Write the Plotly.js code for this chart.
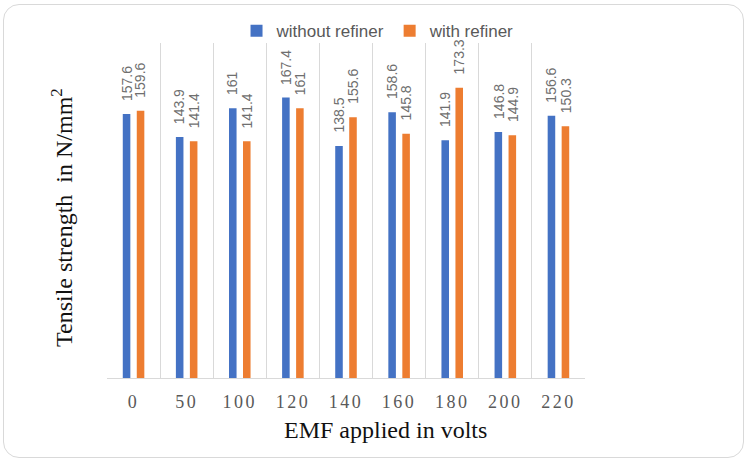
<!DOCTYPE html>
<html>
<head>
<meta charset="utf-8">
<script src="https://cdn.plot.ly/plotly-3.0.1.min.js"></script>
<style>
  html, body { margin: 0; padding: 0; background: #fff; }
  #wrap { position: relative; width: 750px; height: 463px; }
  #chart { width: 750px; height: 463px; }
  #frame { position: absolute; left: 3px; top: 4px; width: 739px; height: 452px;
           border: 1.5px solid #d9d9d9; border-radius: 16px; pointer-events: none; }
  .xtick text { letter-spacing: 2.5px; }
</style>
</head>
<body>
<div id="wrap">
  <div id="chart"></div>
  <div id="frame"></div>
</div>
<script>
const categories = ["0", "50", "100", "120", "140", "160", "180", "200", "220"];
const withoutRefiner = [157.6, 143.9, 161, 167.4, 138.5, 158.6, 141.9, 146.8, 156.6];
const withRefiner = [159.6, 141.4, 141.4, 161, 155.6, 145.8, 173.3, 144.9, 150.3];
const seriesNames = ["without refiner", "with refiner"];
const seriesColors = ["#4472C4", "#ED7D31"];

const traces = [withoutRefiner, withRefiner].map((vals, i) => ({
  type: "bar",
  name: seriesNames[i],
  x: categories,
  y: vals,
  marker: { color: seriesColors[i] },
  hoverinfo: "x+y"
}));

const labelAnns = [];
[withoutRefiner, withRefiner].forEach((vals, i) => {
  vals.forEach((v, j) => {
    labelAnns.push({
      x: j, y: v, xref: "x", yref: "y",
      text: String(v), showarrow: false, textangle: -90,
      xanchor: "center", yanchor: "bottom",
      xshift: i === 0 ? -7 : 7, yshift: 11,
      font: { family: "Liberation Sans, Arial, sans-serif", size: 14, color: "#6f6f6f" }
    });
  });
});

const titleAnns = [
  { text: "EMF applied in volts", xref: "paper", yref: "paper", x: 0.582, y: -0.155,
    xanchor: "center", yanchor: "middle", showarrow: false,
    font: { family: "Liberation Serif, Times New Roman, serif", size: 24, color: "#111" } },
  { text: "Tensile strength  in N/mm<sup>2</sup>", xref: "paper", yref: "paper", x: -0.094, y: 0.478,
    xanchor: "center", yanchor: "middle", showarrow: false, textangle: -90,
    font: { family: "Liberation Serif, Times New Roman, serif", size: 24, color: "#111" } }
];

const layout = {
  width: 750, height: 463,
  margin: { l: 107, r: 165, t: 43, b: 85 },
  paper_bgcolor: "rgba(0,0,0,0)",
  plot_bgcolor: "#fff",
  barmode: "group",
  bargap: 0.473,
  bargroupgap: 0.46,
  showlegend: true,
  legend: {
    orientation: "h", x: 0.567, xanchor: "center", y: 1.035, yanchor: "middle",
    font: { family: "Liberation Sans, Arial, sans-serif", size: 17, color: "#595959" },
    itemwidth: 30, tracegroupgap: 0, bgcolor: "rgba(0,0,0,0)"
  },
  xaxis: {
    type: "category",
    range: [-0.5, categories.length - 0.5],
    tickson: "boundaries",
    showgrid: true, gridcolor: "#d9d9d9", gridwidth: 1,
    showline: true, linecolor: "#d9d9d9", linewidth: 1,
    ticks: "", ticklabelstandoff: 7, tickangle: 0,
    tickfont: { family: "Liberation Serif, Times New Roman, serif", size: 18, color: "#595959" },
    zeroline: false
  },
  yaxis: {
    range: [0, 200],
    showgrid: false, showticklabels: false, ticks: "", zeroline: false, showline: false
  },
  annotations: labelAnns.concat(titleAnns)
};

Plotly.newPlot("chart", traces, layout, { displayModeBar: false, staticPlot: true });
</script>
</body>
</html>
